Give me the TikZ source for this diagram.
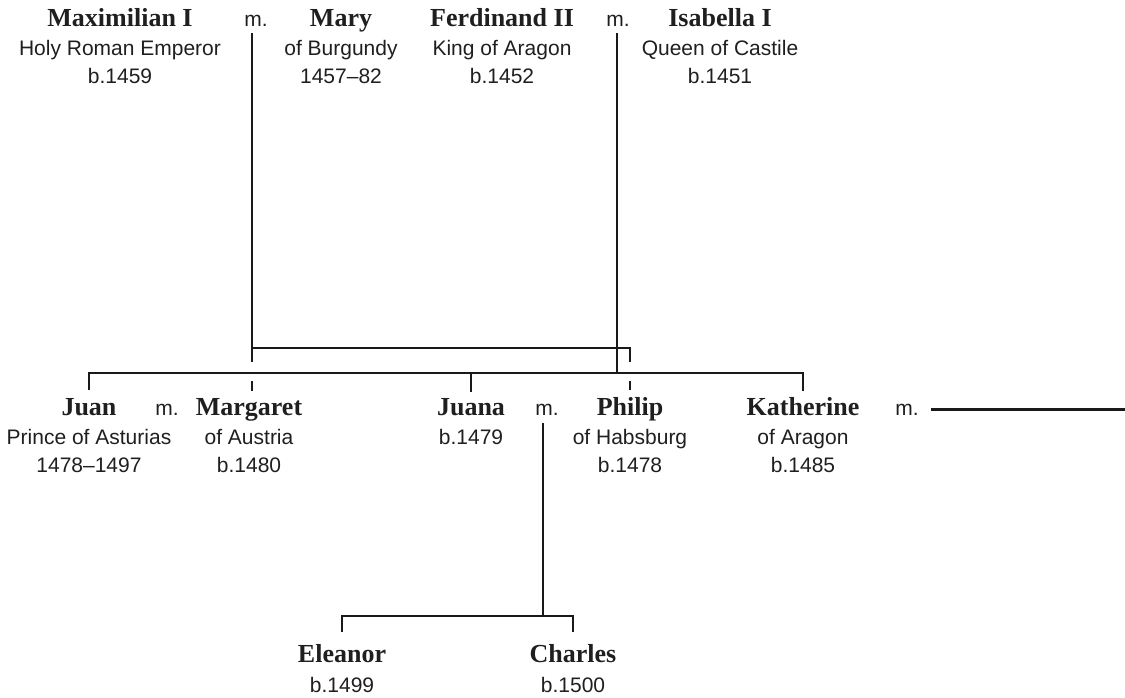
\documentclass[tikz,border=0pt]{standalone}
\usepackage{fontspec}
\setmainfont{Liberation Serif}
\setsansfont{Liberation Sans}
\usetikzlibrary{positioning,calc}
\tikzset{
who/.style={font=\rmfamily\bfseries\fontsize{26}{28}\selectfont,inner sep=0pt,anchor=base,text=black!88},
info/.style={font=\sffamily\fontsize{21}{24}\selectfont,inner sep=0pt,anchor=base,text=black!88},
wed/.style={info},
tree/.style={line width=2.6pt,black!90}
}

\begin{document}
\begin{tikzpicture}[x=1pt,y=-1pt]
\useasboundingbox (0,0) rectangle (1125,697);
% people with two lines of detail
\foreach \id/\x/\y/\nm/\la/\lb in {
max/120/26/Maximilian I/Holy Roman Emperor/b.1459,
mary/341/26/Mary/of Burgundy/1457–82,
ferd/502/26/Ferdinand II/King of Aragon/b.1452,
isa/720/26/Isabella I/Queen of Castile/b.1451,
juan/89/415/Juan/Prince of Asturias/1478–1497,
marg/249/415/Margaret/of Austria/b.1480,
phil/630/415/Philip/of Habsburg/b.1478,
kath/803/415/Katherine/of Aragon/b.1485} {
\node[who] (\id) at (\x,\y) {\nm};
\node[info] (\id-a) at ([yshift=-29pt]\id.base) {\la};
\node[info] (\id-b) at ([yshift=-57pt]\id.base) {\lb};
}
% people with one line
\foreach \id/\x/\y/\dy/\nm/\la in {
juana/471/415/29/Juana/b.1479,
elea/342/662/30/Eleanor/b.1499,
charl/573/662/30/Charles/b.1500} {
\node[who] (\id) at (\x,\y) {\nm};
\node[info] (\id-a) at ([yshift=-\dy pt]\id.base) {\la};
}
% marriages
\node[wed] (m1) at (256,26) {m.};
\node[wed] (m2) at (618,26) {m.};
\node[wed] (m3) at (167,415) {m.};
\node[wed] (m4) at (547,415) {m.};
\node[wed] (m5) at (907,415) {m.};
\coordinate (mA) at (252,33);
\coordinate (mB) at (617,33);
\coordinate (mC) at (543,423);
\coordinate (barH) at (0,348);
\coordinate (barF) at (0,373);
\coordinate (barK) at (0,616);
\coordinate (gapT) at (0,362);
\coordinate (gapB) at (0,381);
\coordinate (rEdge) at (1125,0);
% Maximilian x Mary
\draw[tree] (mA) -- (mA |- gapT);
\draw[tree] (mA |- barH) -| (phil |- gapT);
\draw[tree] (mA |- gapB) -- ([yshift=7pt]marg.north -| mA);
\draw[tree] (phil |- gapB) -- ([yshift=7pt]phil.north);
% Ferdinand x Isabella
\draw[tree] (mB) -- (mB |- barF);
\draw[tree] ([yshift=8pt]juan.north) -- (juan |- barF) -- (kath |- barF) -- ([yshift=6pt]kath.north);
\draw[tree] (juana |- barF) -- ([yshift=6pt]juana.north);
% Juana x Philip
\draw[tree] (mC) -- (mC |- barK);
\draw[tree] ([yshift=12pt]elea.north) -- (elea |- barK) -- (charl |- barK) -- ([yshift=12pt]charl.north);
% Katherine
\draw[tree] ([xshift=12pt]m5.east) -- (m5.east -| rEdge);
\end{tikzpicture}
\end{document}
